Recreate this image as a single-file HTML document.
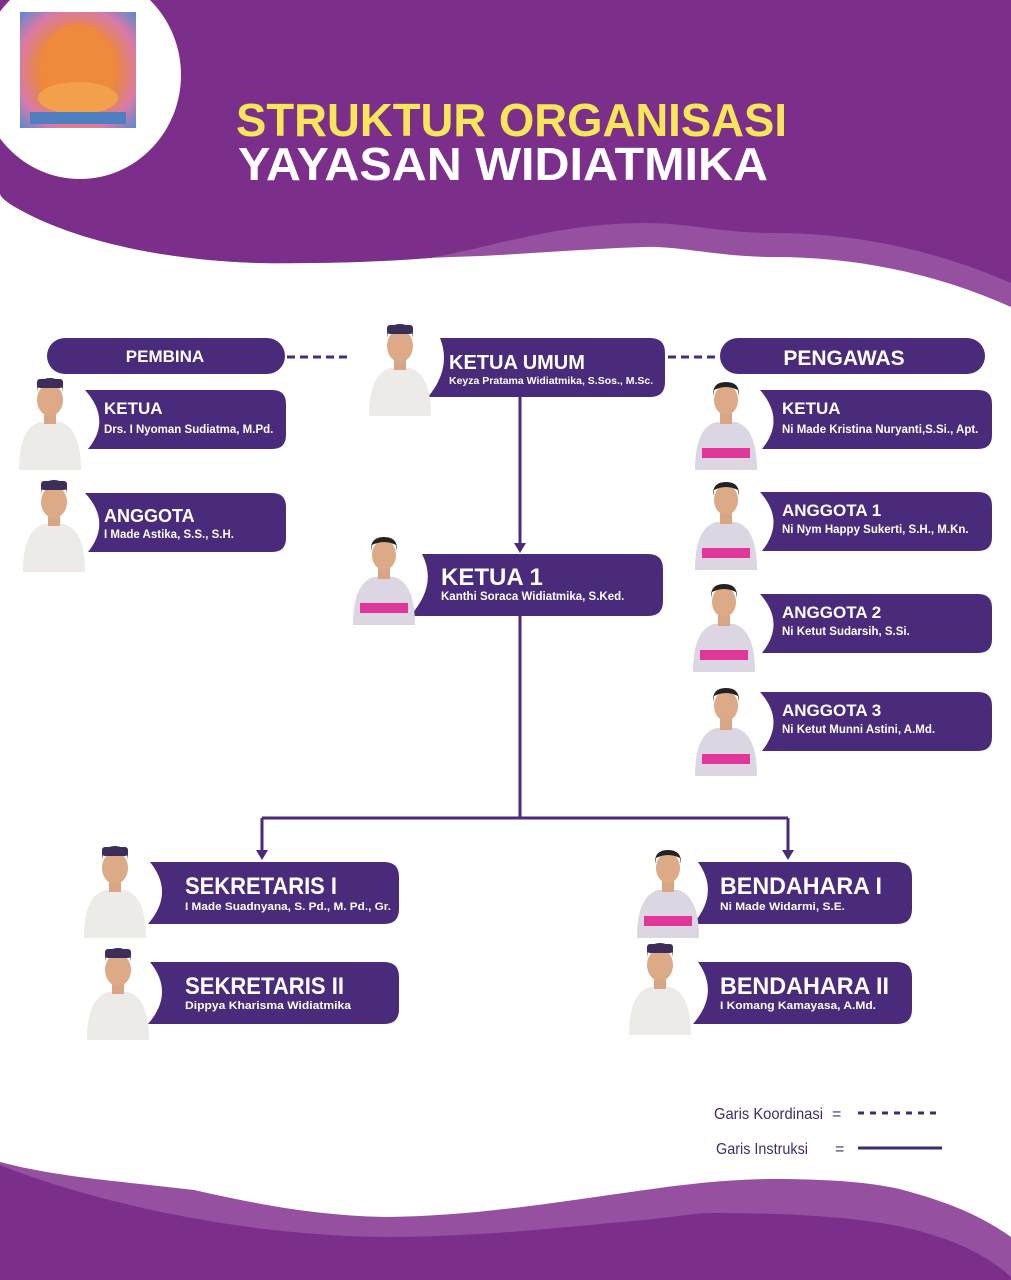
<!DOCTYPE html>
<html><head><meta charset="utf-8"><style>
html,body{margin:0;padding:0;background:#fff;}
svg{display:block;}
text{font-family:"Liberation Sans",sans-serif;}
</style></head><body>
<svg width="1011" height="1280" viewBox="0 0 1011 1280" xmlns="http://www.w3.org/2000/svg">
<defs>
<radialGradient id="rays" cx="0.5" cy="0.5" r="0.7">
<stop offset="0" stop-color="#f0904a"/><stop offset="0.5" stop-color="#e8864a"/><stop offset="0.75" stop-color="#d87aa8"/><stop offset="1" stop-color="#5a8ad0"/>
</radialGradient>
<g id="man">
<path d="M-31,90 Q-31,48 -10,42 L10,42 Q31,48 31,90 Z" fill="#ecebe8"/>
<rect x="-6" y="32" width="12" height="12" fill="#d9a582"/>
<ellipse cx="0" cy="20" rx="13" ry="16" fill="#dcaa86"/>
<path d="M-13,12 Q-12,-2 0,-2 Q12,-2 13,12 L13,6 Q0,0 -13,6 Z" fill="#3a2a4a"/>
<rect x="-13" y="-1" width="26" height="9" rx="3" fill="#3c2d5a"/>
</g>
<g id="woman">
<path d="M-31,90 Q-31,48 -10,42 L10,42 Q31,48 31,90 Z" fill="#dcd6e2"/>
<rect x="-24" y="68" width="48" height="10" fill="#e0379a"/>
<rect x="-6" y="32" width="12" height="12" fill="#d9a582"/>
<ellipse cx="0" cy="20" rx="12" ry="15" fill="#dcaa86"/>
<path d="M-13,16 Q-14,2 0,2 Q14,2 13,16 L12,10 Q0,4 -12,10 Z" fill="#222"/>
</g>
</defs>

<!-- header -->
<path d="M0,0 H1011 V307 C940,275 860,257 774,257 C720,257 680,246 645,247 C580,249 520,255 452,257 C380,260 320,264 258,263 C160,260 80,240 30,215 C10,205 0,198 0,193 Z" fill="#9550a0"/>
<path d="M0,0 H1011 V283 C940,252 860,233 774,233 C720,233 690,223 645,223 C560,223 500,245 430,258 C380,262 320,264 258,263 C160,260 80,240 30,215 C10,205 0,198 0,193 Z" fill="#7b2e8a"/>
<ellipse cx="80" cy="75" rx="101" ry="104" fill="#fff"/>
<rect x="20" y="12" width="116" height="116" fill="url(#rays)"/>
<ellipse cx="78" cy="70" rx="38" ry="46" fill="#ef8a3c"/>
<ellipse cx="78" cy="98" rx="40" ry="16" fill="#f2a04c"/>
<rect x="30" y="112" width="96" height="12" fill="#4f7fc0"/>
<text x="236" y="136" font-size="46" font-weight="bold" fill="#f6e65a" textLength="551" lengthAdjust="spacingAndGlyphs">STRUKTUR ORGANISASI</text>
<text x="238" y="180" font-size="46" font-weight="bold" fill="#ffffff" textLength="530" lengthAdjust="spacingAndGlyphs">YAYASAN WIDIATMIKA</text>

<!-- footer -->
<path d="M0,1162 C60,1178 130,1182 194,1190 C260,1205 320,1216 387,1217 C480,1216 570,1200 645,1190 C700,1182 740,1179 774,1179 C840,1179 880,1184 903,1190 C960,1205 990,1222 1011,1237 V1280 H0 Z" fill="#9550a0"/>
<path d="M0,1165 C100,1205 250,1236 387,1237 C490,1237 580,1225 645,1220 C680,1216 700,1213 710,1213 C800,1213 860,1218 903,1227 C960,1240 990,1258 1011,1277 V1280 H0 Z" fill="#7b2e8a"/>

<!-- connectors -->
<g stroke="#4a2a7a" stroke-width="3" fill="none">
<line x1="287" y1="357" x2="350" y2="357" stroke-dasharray="8,5"/>
<line x1="668" y1="357" x2="718" y2="357" stroke-dasharray="8,5"/>
<line x1="520" y1="397" x2="520" y2="545"/>
<line x1="520" y1="615" x2="520" y2="818"/>
<line x1="262" y1="818" x2="788" y2="818"/>
<line x1="262" y1="818" x2="262" y2="852"/>
<line x1="788" y1="818" x2="788" y2="852"/>
</g>
<g fill="#4a2a7a">
<polygon points="514,543 526,543 520,553"/>
<polygon points="256,850 268,850 262,860"/>
<polygon points="782,850 794,850 788,860"/>
</g>

<!-- pills -->
<rect x="47" y="338" width="238" height="36" rx="18" fill="#4a2a7a"/>
<text x="165" y="362" font-size="17" font-weight="bold" fill="#fff" text-anchor="middle">PEMBINA</text>
<rect x="720" y="338" width="265" height="36" rx="18" fill="#4a2a7a"/>
<text x="844" y="365" font-size="21" font-weight="bold" fill="#fff" text-anchor="middle">PENGAWAS</text>

<!-- boxes -->
<g fill="#4a2a7a">
<path d="M85,390 H272 Q286,390 286,404 V435 Q286,449 272,449 H88 Q112,420 85,390 Z"/>
<path d="M85,493 H272 Q286,493 286,507 V538 Q286,552 272,552 H88 Q112,522 85,493 Z"/>
<path d="M440,338 H650 Q665,338 665,353 V382 Q665,397 650,397 H428 Q452,368 440,338 Z"/>
<path d="M422,554 H648 Q663,554 663,569 V601 Q663,616 648,616 H410 Q438,585 422,554 Z"/>
<path d="M760,390 H978 Q992,390 992,404 V435 Q992,449 978,449 H762 Q786,420 760,390 Z"/>
<path d="M760,492 H978 Q992,492 992,506 V537 Q992,551 978,551 H762 Q786,521 760,492 Z"/>
<path d="M760,594 H978 Q992,594 992,608 V639 Q992,653 978,653 H762 Q786,623 760,594 Z"/>
<path d="M760,692 H978 Q992,692 992,706 V737 Q992,751 978,751 H762 Q786,721 760,692 Z"/>
<path d="M150,862 H384 Q399,862 399,877 V909 Q399,924 384,924 H148 Q175,893 150,862 Z"/>
<path d="M150,962 H384 Q399,962 399,977 V1009 Q399,1024 384,1024 H148 Q175,993 150,962 Z"/>
<path d="M698,862 H897 Q912,862 912,877 V909 Q912,924 897,924 H693 Q720,893 698,862 Z"/>
<path d="M698,962 H897 Q912,962 912,977 V1009 Q912,1024 897,1024 H693 Q720,993 698,962 Z"/>
</g>

<!-- photos -->
<use href="#man" x="50" y="380"/>
<use href="#man" x="54" y="482"/>
<use href="#man" x="400" y="326"/>
<use href="#woman" x="384" y="535"/>
<use href="#woman" x="726" y="380"/>
<use href="#woman" x="726" y="480"/>
<use href="#woman" x="724" y="582"/>
<use href="#woman" x="726" y="686"/>
<use href="#man" x="115" y="848"/>
<use href="#man" x="118" y="950"/>
<use href="#woman" x="668" y="848"/>
<use href="#man" x="660" y="945"/>

<!-- texts -->
<g fill="#fff" font-weight="bold">
<text x="104" y="414" font-size="17">KETUA</text>
<text x="104" y="433" font-size="11.5">Drs. I Nyoman Sudiatma, M.Pd.</text>
<text x="104" y="522" font-size="18">ANGGOTA</text>
<text x="104" y="538" font-size="11.5">I Made Astika, S.S., S.H.</text>
<text x="449" y="369" font-size="20">KETUA UMUM</text>
<text x="449" y="384" font-size="10.5">Keyza Pratama Widiatmika, S.Sos., M.Sc.</text>
<text x="441" y="585" font-size="24">KETUA 1</text>
<text x="441" y="600" font-size="11.5">Kanthi Soraca Widiatmika, S.Ked.</text>
<text x="782" y="414" font-size="17">KETUA</text>
<text x="782" y="433" font-size="11.5">Ni Made Kristina Nuryanti,S.Si., Apt.</text>
<text x="782" y="516" font-size="17">ANGGOTA 1</text>
<text x="782" y="533" font-size="11.5">Ni Nym Happy Sukerti, S.H., M.Kn.</text>
<text x="782" y="618" font-size="17">ANGGOTA 2</text>
<text x="782" y="635" font-size="11.5">Ni Ketut Sudarsih, S.Si.</text>
<text x="782" y="716" font-size="17">ANGGOTA 3</text>
<text x="782" y="733" font-size="11.5">Ni Ketut Munni Astini, A.Md.</text>
<text x="185" y="894" font-size="24" textLength="152" lengthAdjust="spacingAndGlyphs">SEKRETARIS I</text>
<text x="185" y="910" font-size="11" textLength="206" lengthAdjust="spacingAndGlyphs">I Made Suadnyana, S. Pd., M. Pd., Gr.</text>
<text x="185" y="994" font-size="24" textLength="159" lengthAdjust="spacingAndGlyphs">SEKRETARIS II</text>
<text x="185" y="1009" font-size="11" textLength="166" lengthAdjust="spacingAndGlyphs">Dippya Kharisma Widiatmika</text>
<text x="720" y="894" font-size="24" textLength="162" lengthAdjust="spacingAndGlyphs">BENDAHARA I</text>
<text x="720" y="910" font-size="11" textLength="125" lengthAdjust="spacingAndGlyphs">Ni Made Widarmi, S.E.</text>
<text x="720" y="994" font-size="24" textLength="169" lengthAdjust="spacingAndGlyphs">BENDAHARA II</text>
<text x="720" y="1009" font-size="11" textLength="156" lengthAdjust="spacingAndGlyphs">I Komang Kamayasa, A.Md.</text>
</g>

<!-- legend -->
<g fill="#3d2e6b" font-size="16">
<text x="714" y="1119" textLength="109" lengthAdjust="spacingAndGlyphs">Garis Koordinasi</text>
<text x="832" y="1119">=</text>
<text x="716" y="1154" textLength="92" lengthAdjust="spacingAndGlyphs">Garis Instruksi</text>
<text x="835" y="1154">=</text>
</g>
<line x1="858" y1="1113" x2="942" y2="1113" stroke="#3d2e6b" stroke-width="3" stroke-dasharray="6,6"/>
<line x1="858" y1="1148" x2="942" y2="1148" stroke="#3d2e6b" stroke-width="3"/>
</svg>
</body></html>
